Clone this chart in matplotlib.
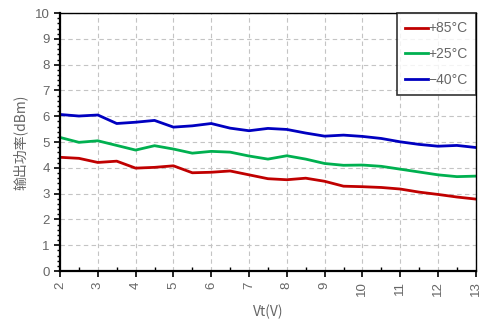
import numpy as np
import matplotlib
matplotlib.use('Agg')
import matplotlib.pyplot as plt
from matplotlib.ticker import MultipleLocator

# data
vt = [2, 2.5, 3, 3.5, 4, 4.5, 5, 5.5, 6, 6.5, 7, 7.5, 8, 8.5, 9, 9.5,
      10, 10.5, 11, 11.5, 12, 12.5, 13]
p_85 = [4.41, 4.37, 4.21, 4.26, 3.99, 4.02, 4.08, 3.81, 3.83, 3.88, 3.73, 3.58,
        3.54, 3.60, 3.48, 3.29, 3.27, 3.24, 3.18, 3.06, 2.97, 2.87, 2.79]
p_25 = [5.18, 4.99, 5.05, 4.87, 4.69, 4.86, 4.73, 4.57, 4.64, 4.61, 4.46, 4.34,
        4.47, 4.34, 4.17, 4.10, 4.11, 4.06, 3.95, 3.84, 3.73, 3.66, 3.68]
p_m40 = [6.07, 6.01, 6.05, 5.72, 5.77, 5.84, 5.58, 5.63, 5.72, 5.54, 5.44, 5.53,
         5.49, 5.35, 5.23, 5.27, 5.22, 5.14, 5.01, 4.91, 4.84, 4.87, 4.79]
labels = ['+85°C', '+25°C', '−40°C']
colors = ['#c00000', '#00b050', '#0000c0']

plt.rcParams['font.family'] = ['Liberation Sans', 'Noto Sans CJK SC', 'DejaVu Sans']

fig = plt.figure(figsize=(4.88, 3.2), dpi=100)
ax = fig.add_axes([0.123, 0.153, 0.852, 0.806])

for ys, lab, c in zip([p_85, p_25, p_m40], labels, colors):
    ax.plot(vt, ys, color=c, lw=2.0, label=lab)

ax.set_xlim(2, 13)
ax.set_ylim(0, 10)
ax.xaxis.set_major_locator(MultipleLocator(1))
ax.xaxis.set_minor_locator(MultipleLocator(0.5))
ax.yaxis.set_major_locator(MultipleLocator(1))
ax.yaxis.set_minor_locator(MultipleLocator(0.2))
ax.grid(True, which='major', ls=(0, (4, 3)), color='#c4c4c4', lw=0.8)

grey = '#666666'
ax.tick_params(axis='both', which='major', labelsize=9.5, labelcolor=grey,
               length=4, width=1.2, color='black')
ax.tick_params(axis='x', which='major', labelrotation=90)
ax.tick_params(axis='x', which='minor', direction='in', length=3, width=1.0)
ax.tick_params(axis='y', which='minor', length=2.5, width=1.0)

for s in ['left', 'bottom']:
    ax.spines[s].set_linewidth(1.6)
for s in ['top', 'right']:
    ax.spines[s].set_linewidth(1.0)

ax.set_ylabel('输出功率(dBm)', color=grey, fontsize=10,
              family=['Noto Sans CJK SC', 'DejaVu Sans'], labelpad=5)
ax.set_xlabel('Vt(V)', color=grey, fontsize=10,
              family=['Noto Sans CJK SC', 'DejaVu Sans'], labelpad=6)

leg = ax.legend(loc='upper right', fontsize=10, frameon=True, fancybox=False,
                edgecolor='black', handlelength=1.6, handletextpad=0.05,
                labelspacing=0.85, borderaxespad=0, borderpad=0.6,
                labelcolor=grey)
leg.get_frame().set_linewidth(1.2)

fig.savefig('out.png', dpi=100)
